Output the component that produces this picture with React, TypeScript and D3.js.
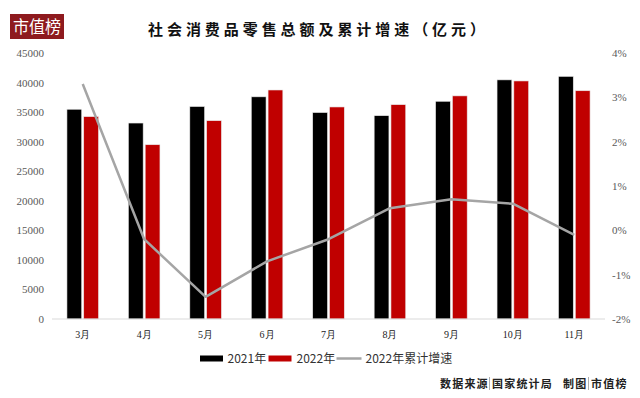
import React from "react";
import * as d3 from "d3";

const months = ["3月", "4月", "5月", "6月", "7月", "8月", "9月", "10月", "11月"];
const sales2021 = [35484, 33153, 35945, 37586, 34925, 34395, 36833, 40454, 41043];
const sales2022 = [34233, 29483, 33547, 38742, 35870, 36258, 37745, 40271, 38615];
const growth2022 = [3.3, -0.2, -1.5, -0.7, -0.2, 0.5, 0.7, 0.6, -0.1];
const leftTicks = [0, 5000, 10000, 15000, 20000, 25000, 30000, 35000, 40000, 45000];
const rightTicks = [-2, -1, 0, 1, 2, 3, 4];
const seriesNames = ["2021年", "2022年"];

const W = 640;
const H = 398;
const plotLeft = 52;
const plotRight = 605;
const plotTop = 53;
const plotBottom = 319;

export default function App() {
  const x0 = d3
    .scaleBand<string>()
    .domain(months)
    .range([plotLeft, plotRight])
    .paddingInner(0.486)
    .paddingOuter(0.243);
  const x1 = d3
    .scaleBand<string>()
    .domain(seriesNames)
    .range([0, x0.bandwidth()])
    .paddingInner(0.12);
  const yL = d3.scaleLinear().domain([0, 45000]).range([plotBottom, plotTop]);
  const yR = d3.scaleLinear().domain([-2, 4]).range([plotBottom, plotTop]);
  const colors = ["#000000", "#C00000"];
  const data = [sales2021, sales2022];

  const line = d3
    .line<number>()
    .x((_, i) => (x0(months[i]) as number) + x0.bandwidth() / 2)
    .y((d) => yR(d));

  const tickFont = "'Liberation Serif', 'DejaVu Serif', serif";
  const cjk = "'Noto Sans CJK SC', sans-serif";

  return (
    <svg width={W} height={H} style={{ position: "absolute", left: 0, top: 0, background: "#fff" }}>
      <rect x={0} y={0} width={W} height={H} fill="#ffffff" />
      {/* logo */}
      <rect x={10} y={14} width={54} height={25} fill="#8E1A1E" />
      <text x={37} y={32.5} textAnchor="middle" fill="#ffffff" fontSize={17} fontFamily={cjk} textLength={48} lengthAdjust="spacingAndGlyphs">
        市值榜
      </text>
      {/* title */}
      <text x={148} y={34.5} fill="#111" fontSize={15} fontWeight="bold" fontFamily={cjk} textLength={337} lengthAdjust="spacing">
        社会消费品零售总额及累计增速（亿元）
      </text>

      {/* left axis labels */}
      {leftTicks.map((t) => (
        <text key={"l" + t} x={44} y={yL(t) + 4} textAnchor="end" fontSize={11} fill="#595959" fontFamily={tickFont}>
          {t}
        </text>
      ))}
      {/* right axis labels */}
      {rightTicks.map((t) => (
        <text key={"r" + t} x={612} y={yR(t) + 4} textAnchor="start" fontSize={11} fill="#595959" fontFamily={tickFont}>
          {t}%
        </text>
      ))}

      {/* bars */}
      {months.map((m, i) => (
        <g key={m}>
          {seriesNames.map((s, k) => (
            <rect
              key={s}
              x={(x0(m) as number) + (x1(s) as number)}
              y={yL(data[k][i])}
              width={x1.bandwidth()}
              height={plotBottom - yL(data[k][i])}
              fill={colors[k]}
              stroke="#e8e8e8"
              strokeWidth={0.6}
            />
          ))}
        </g>
      ))}

      {/* baseline */}
      <line x1={plotLeft} x2={plotRight} y1={plotBottom} y2={plotBottom} stroke="#d9d9d9" strokeWidth={1} />

      {/* x labels */}
      {months.map((m) => (
        <text key={"x" + m} x={(x0(m) as number) + x0.bandwidth() / 2} y={338} textAnchor="middle" fontSize={10} fill="#222" fontFamily={tickFont}>
          {m}
        </text>
      ))}

      {/* line */}
      <path d={line(growth2022) || ""} fill="none" stroke="#A5A5A5" strokeWidth={2.5} strokeLinejoin="round" />

      {/* legend */}
      <rect x={200} y={355.5} width={23} height={6} fill="#000" />
      <text x={227.5} y={362.5} fontSize={12} fill="#333" fontFamily={cjk}>2021年</text>
      <rect x={268.5} y={355.5} width={23} height={6} fill="#C00000" />
      <text x={296.5} y={362.5} fontSize={12} fill="#333" fontFamily={cjk}>2022年</text>
      <line x1={336.5} x2={361.5} y1={358.5} y2={358.5} stroke="#A5A5A5" strokeWidth={2.5} />
      <text x={365.5} y={362.5} fontSize={12} fill="#333" fontFamily={cjk}>2022年累计增速</text>

      {/* source */}
      <g fontSize={11} fontWeight="bold" fill="#222" fontFamily={cjk} letterSpacing={1.2}>
        <text x={440} y={388}>数据来源</text>
        <line x1={489.5} x2={489.5} y1={377} y2={390} stroke="#999" strokeWidth={0.8} />
        <text x={492} y={388}>国家统计局</text>
        <text x={563} y={388}>制图</text>
        <line x1={588.5} x2={588.5} y1={377} y2={390} stroke="#999" strokeWidth={0.8} />
        <text x={591} y={388}>市值榜</text>
      </g>
    </svg>
  );
}
